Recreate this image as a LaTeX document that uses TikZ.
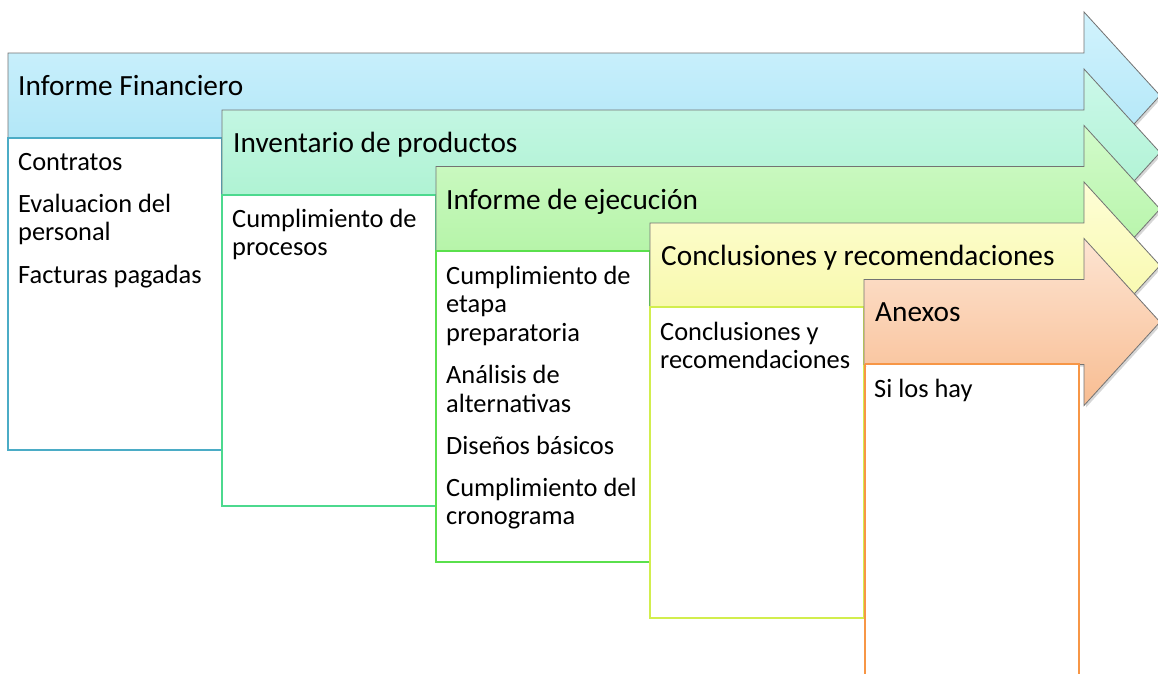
\documentclass[tikz,border=0pt]{standalone}
\usepackage{fontspec}
\setmainfont{Carlito}
\begin{document}
\begin{tikzpicture}[x=1pt,y=-1pt,
  arrowshape/.style={draw=gray!90!black, line width=0.8pt},
  shadowshape/.style={fill=black, opacity=0.16},
  listbox/.style={line width=1.6pt, fill=white},
  headtext/.style={anchor=base west, inner sep=0pt, font=\fontsize{29.3}{32}\selectfont},
  itemtext/.style={anchor=north west, inner sep=0pt, align=left, font=\fontsize{26.4}{28.6}\selectfont}
]
\definecolor{aOneT}{HTML}{D2F3FD}\definecolor{aOneB}{HTML}{A8E3F6}
\definecolor{aTwoT}{HTML}{CCF8EA}\definecolor{aTwoB}{HTML}{A6F1CC}
\definecolor{aThrT}{HTML}{D2FBCA}\definecolor{aThrB}{HTML}{ADF29E}
\definecolor{aFouT}{HTML}{FEFED6}\definecolor{aFouB}{HTML}{F6F7A0}
\definecolor{aFivT}{HTML}{FDE4D2}\definecolor{aFivB}{HTML}{F8BD92}
\definecolor{bOne}{HTML}{4BACC6}
\definecolor{bTwo}{HTML}{4CD98E}
\definecolor{bThr}{HTML}{5AE04C}
\definecolor{bFou}{HTML}{D2EE4E}
\definecolor{bFiv}{HTML}{F79646}
\useasboundingbox (0,0) rectangle (1158,673);
\fill[white] (0,0) rectangle (1158,673);
% ---------- step 1
\def\stepx{8}\def\stept{53}
\fill[shadowshape] (\stepx+2,\stept+2) -- (1086,\stept+2) -- (1086,\stept-39) -- (1162,\stept+44.5) -- (1086,\stept+128) -- (1086,\stept+87) -- (\stepx+2,\stept+87) -- cycle;
\draw[arrowshape, top color=aOneT, bottom color=aOneB] (\stepx,\stept) -- (1084,\stept) -- (1084,\stept-41) -- (1160,\stept+42.5) -- (1084,\stept+126) -- (1084,\stept+85) -- (\stepx,\stept+85) -- cycle;
\draw[listbox, draw=bOne] (8,138) rectangle (222,450);
\node[headtext] (h1) at (18,95) {Informe Financiero};
\node[itemtext] (t1) at (18,150) {\strut Contratos\\[13.5pt]Evaluacion del\\personal\\[13.5pt]Facturas pagadas};
% ---------- step 2
\def\stepx{222}\def\stept{110}
\fill[shadowshape] (\stepx+2,\stept+2) -- (1086,\stept+2) -- (1086,\stept-39) -- (1162,\stept+44.5) -- (1086,\stept+128) -- (1086,\stept+87) -- (\stepx+2,\stept+87) -- cycle;
\draw[arrowshape, top color=aTwoT, bottom color=aTwoB] (\stepx,\stept) -- (1084,\stept) -- (1084,\stept-41) -- (1160,\stept+42.5) -- (1084,\stept+126) -- (1084,\stept+85) -- (\stepx,\stept+85) -- cycle;
\draw[listbox, draw=bTwo] (222,195) rectangle (436,506);
\node[headtext] (h2) at (233,152) {Inventario de productos};
\node[itemtext] (t2) at (232,207) {\strut Cumplimiento de\\procesos};
% ---------- step 3
\def\stepx{436}\def\stept{166.5}
\fill[shadowshape] (\stepx+2,\stept+2) -- (1086,\stept+2) -- (1086,\stept-39) -- (1162,\stept+44.5) -- (1086,\stept+128) -- (1086,\stept+87) -- (\stepx+2,\stept+87) -- cycle;
\draw[arrowshape, top color=aThrT, bottom color=aThrB] (\stepx,\stept) -- (1084,\stept) -- (1084,\stept-41) -- (1160,\stept+42.5) -- (1084,\stept+126) -- (1084,\stept+85) -- (\stepx,\stept+85) -- cycle;
\draw[listbox, draw=bThr] (436,251) rectangle (650,562);
\node[headtext] (h3) at (446,209) {Informe de ejecución};
\node[itemtext] (t3) at (446,264) {\strut Cumplimiento de\\etapa\\preparatoria\\[13.5pt]Análisis de\\alternativas\\[13.5pt]Diseños básicos\\[13.5pt]Cumplimiento del\\cronograma};
% ---------- step 4
\def\stepx{650}\def\stept{223}
\fill[shadowshape] (\stepx+2,\stept+2) -- (1086,\stept+2) -- (1086,\stept-39) -- (1162,\stept+44.5) -- (1086,\stept+128) -- (1086,\stept+87) -- (\stepx+2,\stept+87) -- cycle;
\draw[arrowshape, top color=aFouT, bottom color=aFouB] (\stepx,\stept) -- (1084,\stept) -- (1084,\stept-41) -- (1160,\stept+42.5) -- (1084,\stept+126) -- (1084,\stept+85) -- (\stepx,\stept+85) -- cycle;
\draw[listbox, draw=bFou] (650,307) rectangle (864,618);
\node[headtext] (h4) at (661,265) {Conclusiones y recomendaciones};
\node[itemtext] (t4) at (660,320) {\strut Conclusiones y\\recomendaciones};
% ---------- step 5
\def\stepx{864}\def\stept{279.5}
\fill[shadowshape] (\stepx+2,\stept+2) -- (1086,\stept+2) -- (1086,\stept-39) -- (1162,\stept+44.5) -- (1086,\stept+128) -- (1086,\stept+87) -- (\stepx+2,\stept+87) -- cycle;
\draw[arrowshape, top color=aFivT, bottom color=aFivB] (\stepx,\stept) -- (1084,\stept) -- (1084,\stept-41) -- (1160,\stept+42.5) -- (1084,\stept+126) -- (1084,\stept+85) -- (\stepx,\stept+85) -- cycle;
\draw[listbox, draw=bFiv] (865,364) -- (865,680) (1079,680) -- (1079,364) -- (865,364);
\node[headtext] (h5) at (875,321) {Anexos};
\node[itemtext] (t5) at (874,377) {\strut Si los hay};
\end{tikzpicture}
\end{document}
